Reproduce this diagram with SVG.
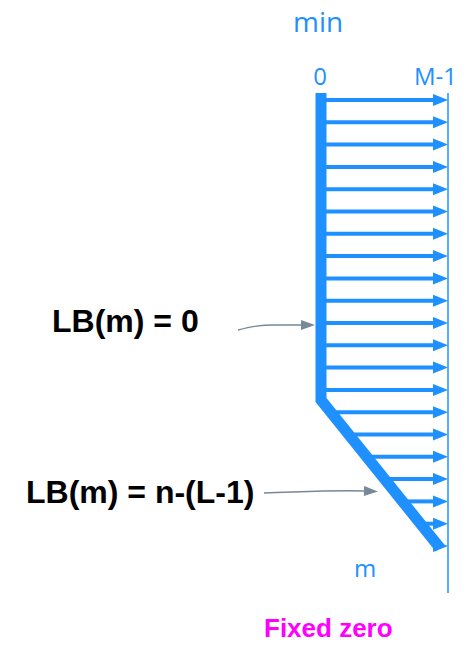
<svg xmlns="http://www.w3.org/2000/svg" width="467" height="645" viewBox="0 0 467 645">
<style>
.blue{fill:#1E90FF;font-family:"Open Sans","DejaVu Sans",sans-serif}
.lbl{fill:#000;font-family:"Liberation Sans",Arial,sans-serif;font-weight:bold;font-size:32px}
.arr{stroke:#1E90FF;stroke-width:4;fill:none}
.gray{stroke:#778899;stroke-width:1.5;fill:none}
</style>
<defs>
<marker id="ah" markerUnits="userSpaceOnUse" markerWidth="16" markerHeight="13" refX="0" refY="6" orient="auto" overflow="visible">
<path d="M0,0 L15,6 L0,12 Z" fill="#1E90FF"/>
</marker>
<marker id="gh" markerUnits="userSpaceOnUse" markerWidth="15" markerHeight="11" refX="0" refY="5" orient="auto" overflow="visible">
<path d="M0,0 L14,5 L0,10 Z" fill="#778899"/>
</marker>
</defs>
<g id="axis">
<line x1="448" y1="93" x2="448" y2="593" stroke="#1E90FF" stroke-width="1.5"/>
<text class="blue" x="293" y="32" font-size="28">min</text>
<text class="blue" x="320" y="85" font-size="24" text-anchor="middle">0</text>
<text class="blue" x="414" y="85" font-size="24">M-1</text>
<text class="blue" x="354" y="577" font-size="24">m</text>
</g>
<g id="connectors">
<line class="arr" x1="321" y1="100" x2="433" y2="100" marker-end="url(#ah)"/>
<line class="arr" x1="321" y1="122.3" x2="433" y2="122.3" marker-end="url(#ah)"/>
<line class="arr" x1="321" y1="144.6" x2="433" y2="144.6" marker-end="url(#ah)"/>
<line class="arr" x1="321" y1="166.9" x2="433" y2="166.9" marker-end="url(#ah)"/>
<line class="arr" x1="321" y1="189.2" x2="433" y2="189.2" marker-end="url(#ah)"/>
<line class="arr" x1="321" y1="211.5" x2="433" y2="211.5" marker-end="url(#ah)"/>
<line class="arr" x1="321" y1="233.8" x2="433" y2="233.8" marker-end="url(#ah)"/>
<line class="arr" x1="321" y1="256.1" x2="433" y2="256.1" marker-end="url(#ah)"/>
<line class="arr" x1="321" y1="278.4" x2="433" y2="278.4" marker-end="url(#ah)"/>
<line class="arr" x1="321" y1="300.7" x2="433" y2="300.7" marker-end="url(#ah)"/>
<line class="arr" x1="321" y1="323" x2="433" y2="323" marker-end="url(#ah)"/>
<line class="arr" x1="321" y1="345.3" x2="433" y2="345.3" marker-end="url(#ah)"/>
<line class="arr" x1="321" y1="367.6" x2="433" y2="367.6" marker-end="url(#ah)"/>
<line class="arr" x1="321" y1="389.9" x2="433" y2="389.9" marker-end="url(#ah)"/>
<line class="arr" x1="331" y1="412.2" x2="433" y2="412.2" marker-end="url(#ah)"/>
<line class="arr" x1="349" y1="434.5" x2="433" y2="434.5" marker-end="url(#ah)"/>
<line class="arr" x1="367" y1="456.8" x2="433" y2="456.8" marker-end="url(#ah)"/>
<line class="arr" x1="385" y1="479.1" x2="433" y2="479.1" marker-end="url(#ah)"/>
<line class="arr" x1="403" y1="501.4" x2="433" y2="501.4" marker-end="url(#ah)"/>
<line class="arr" x1="421" y1="523.7" x2="433" y2="523.7" marker-end="url(#ah)"/>
<line class="arr" x1="433" y1="546" x2="433" y2="546" marker-end="url(#ah)"/>
<path class="gray" d="M238,330 C250,327 258,325 275,325 L301,325" marker-end="url(#gh)"/>
<path class="gray" d="M264,493 C300,492 330,490 364,491" marker-end="url(#gh)"/>
</g>
<g id="bound">
<polyline points="321,93 321,400 440,548" fill="none" stroke="#1E90FF" stroke-width="11" stroke-linejoin="miter"/>
</g>
<g id="label-lb0">
<text class="lbl" x="52" y="332">LB(m) = 0</text>
</g>
<g id="label-lbn">
<text class="lbl" x="26" y="503">LB(m) = n-(L-1)</text>
</g>
<g id="fixed-zero">
<text x="264" y="637" fill="#FF00FF" font-family="Liberation Sans, Arial, sans-serif" font-weight="bold" font-size="26">Fixed zero</text>
</g>
</svg>
